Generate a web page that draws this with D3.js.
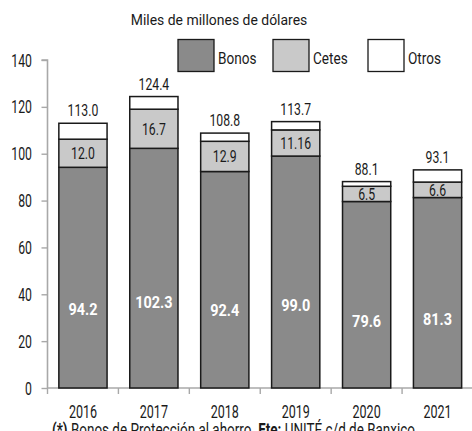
<!DOCTYPE html>
<html>
<head>
<meta charset="utf-8">
<script src="https://cdn.jsdelivr.net/npm/d3@7/dist/d3.min.js"></script>
<style>
  html, body { margin: 0; padding: 0; background: #fff; }
  svg { display: block; }
  text { font-family: Roboto, "Liberation Sans", sans-serif; }
</style>
</head>
<body>
<svg id="chart" width="472" height="431"></svg>
<script>
// Deuda en valores gubernamentales, miles de millones de dólares
const years  = ["2016", "2017", "2018", "2019", "2020", "2021"];
const bonos  = [94.2, 102.3, 92.4, 99.0, 79.6, 81.3];
const cetes  = [12.0, 16.7, 12.9, 11.16, 6.5, 6.6];
const totals = [113.0, 124.4, 108.8, 113.7, 88.1, 93.1];
const cetesLabels = ["12.0", "16.7", "12.9", "11.16", "6.5", "6.6"];
const yTicks = [0, 20, 40, 60, 80, 100, 120, 140];
const seriesNames = ["Bonos", "Cetes", "Otros"];
const seriesColors = ["#8a8a8a", "#c9c9c9", "#ffffff"];

// Otros = total - bonos - cetes
const otros = totals.map((t, i) => +(t - bonos[i] - cetes[i]).toFixed(2));

const rows = years.map((y, i) => ({ year: y, Bonos: bonos[i], Cetes: cetes[i], Otros: otros[i], total: totals[i] }));
const stacked = d3.stack().keys(seriesNames)(rows);

const svg = d3.select("#chart");
const x = d3.scaleBand().domain(years).range([47.5, 473]).paddingInner(0.32).paddingOuter(0.16);
const y = d3.scaleLinear().domain([0, 140]).range([388, 60]);

const axisColor = "#a8a8a8";
const ink = "#1a1a1a";

// horizontally condensed text helper
function label(g, px, py, str, o = {}) {
  const sx = o.sx ?? 0.7;
  return g.append("text")
    .attr("transform", `translate(${px},${py}) scale(${sx},1)`)
    .attr("text-anchor", o.anchor ?? "middle")
    .attr("font-size", o.size ?? 17)
    .attr("font-weight", o.weight ?? "normal")
    .attr("fill", o.fill ?? ink)
    .text(str);
}

// title
label(svg, 219, 25, "Miles de millones de dólares", { size: 15.5, sx: 0.9 });

// legend
const legend = svg.append("g");
const legendX = [178, 273, 368];
seriesNames.forEach((name, i) => {
  legend.append("rect")
    .attr("x", legendX[i]).attr("y", 39.5).attr("width", 36).attr("height", 32)
    .attr("fill", seriesColors[i]).attr("stroke", ink).attr("stroke-width", 1.3);
  label(legend, legendX[i] + 40, 63.5, name, { anchor: "start", size: 17, sx: 0.8 });
});

// y axis
const yAxis = svg.append("g").attr("transform", "translate(47.5,0)")
  .call(d3.axisLeft(y).tickValues(yTicks).tickSize(6).tickFormat(""));
yAxis.select(".domain").attr("stroke", axisColor).attr("stroke-width", 1.6).attr("d", `M-6,${y(140)}H0V${y(0)}`);
yAxis.selectAll(".tick line").attr("stroke", axisColor).attr("stroke-width", 1.4);
yTicks.forEach(t => label(svg, 32, y(t) + 6.5, String(t), { anchor: "end", size: 18, sx: 0.68 }));

// x axis with ticks at category boundaries
const step = x.step();
const bounds = d3.range(years.length + 1).map(i => x.range()[0] + i * step);
const xAxis = svg.append("g");
xAxis.append("line").attr("x1", 47.5).attr("x2", 472).attr("y1", y(0)).attr("y2", y(0))
  .attr("stroke", axisColor).attr("stroke-width", 1.6);
xAxis.selectAll("line.tk").data(bounds).join("line").attr("class", "tk")
  .attr("x1", d => d).attr("x2", d => d).attr("y1", y(0)).attr("y2", y(0) + 6)
  .attr("stroke", axisColor).attr("stroke-width", 1.4);
years.forEach(yr => label(svg, x(yr) + x.bandwidth() / 2, 418, yr, { size: 19, sx: 0.66 }));

// stacked bars
const barsG = svg.append("g");
stacked.forEach((layer, si) => {
  barsG.selectAll(null).data(layer).join("rect")
    .attr("x", d => x(d.data.year))
    .attr("width", x.bandwidth())
    .attr("y", d => y(d[1]))
    .attr("height", d => y(d[0]) - y(d[1]))
    .attr("fill", seriesColors[si])
    .attr("stroke", ink)
    .attr("stroke-width", 1.5);
});

// value labels
rows.forEach((r, i) => {
  const cx = x(r.year) + x.bandwidth() / 2;
  label(svg, cx, y(r.Bonos * 0.36) + 6, r.Bonos.toFixed(1), { size: 17, weight: "bold", fill: "#ffffff", sx: 0.85 });
  label(svg, cx, y(r.Bonos + r.Cetes / 2) + 6, cetesLabels[i], { size: 17, sx: 0.72 });
  label(svg, cx, y(r.total) - 7, r.total.toFixed(1), { size: 17, sx: 0.72 });
});

// source note
const note = svg.append("text")
  .attr("x", 52).attr("y", 436)
  .attr("font-size", 18).attr("fill", ink)
  .attr("textLength", 363).attr("lengthAdjust", "spacingAndGlyphs");
note.append("tspan").attr("font-weight", "bold").text("(*)");
note.append("tspan").text(" Bonos de Protección al ahorro. ");
note.append("tspan").attr("font-weight", "bold").text("Fte:");
note.append("tspan").text(" UNITÉ c/d de Banxico");
</script>
</body>
</html>
